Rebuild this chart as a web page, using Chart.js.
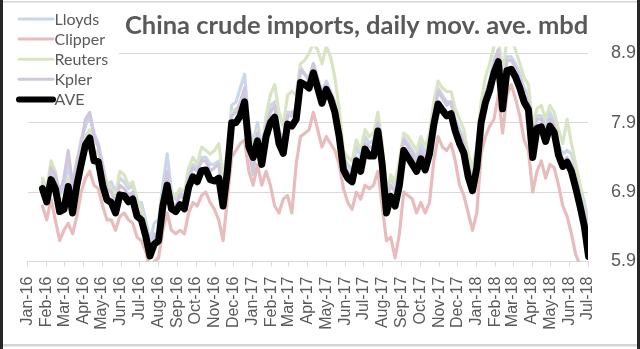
<!DOCTYPE html>
<html>
<head>
<meta charset="utf-8">
<script src="https://cdn.jsdelivr.net/npm/chart.js@4.4.1/dist/chart.umd.min.js"></script>
<style>
  html, body { margin: 0; padding: 0; background: #ffffff; }
  canvas { display: block; }
</style>
</head>
<body>
<canvas id="chart" width="640" height="349"></canvas>
<script>
// Month tick labels along the bottom axis
const monthLabels = [
  'Jan-16','Feb-16','Mar-16','Apr-16','May-16','Jun-16','Jul-16','Aug-16','Sep-16','Oct-16','Nov-16','Dec-16',
  'Jan-17','Feb-17','Mar-17','Apr-17','May-17','Jun-17','Jul-17','Aug-17','Sep-17','Oct-17','Nov-17','Dec-17',
  'Jan-18','Feb-18','Mar-18','Apr-18','May-18','Jun-18','Jul-18'
];
const yTicks = [5.9, 6.9, 7.9, 8.9];

// Weekly readings of the moving averages, starting 25 Jan 2016 (mbd)
const seriesStart = Date.UTC(2016, 0, 25);
const stepDays = 7;

const lloyds = [
  7.05,6.90,7.20,7.10,6.85,6.95,7.30,6.95,7.30,7.65,
  7.85,8.00,7.75,7.60,7.30,7.00,7.05,6.90,7.10,7.05,
  6.95,7.00,6.75,6.75,6.50,6.20,6.45,6.50,7.00,7.45,
  6.90,6.80,6.90,6.85,7.15,7.30,7.25,7.40,7.40,7.30,
  7.30,7.35,6.95,7.40,8.15,8.20,8.40,8.60,7.85,7.60,
  7.90,7.55,7.90,8.15,8.20,7.80,7.65,8.05,8.05,8.10,
  8.70,8.60,8.55,8.75,8.55,8.35,8.50,8.35,8.20,7.85,
  7.40,7.30,7.20,7.55,7.40,7.70,7.60,7.65,7.95,7.50,
  6.85,7.10,7.00,7.30,7.70,7.60,7.50,7.40,7.60,7.45,
  7.65,8.05,8.40,8.30,8.20,8.20,7.95,7.80,7.65,7.30,
  7.15,7.45,8.05,8.30,8.50,8.80,8.95,8.40,8.85,8.85,
  8.75,8.60,8.40,8.30,7.70,8.00,8.00,7.85,8.05,7.90,
  7.60,7.45,7.50,7.45,7.25,7.00,6.75,6.45
];
const clipper = [
  6.70,6.50,6.80,6.50,6.20,6.35,6.45,6.30,6.55,6.90,
  7.10,7.20,7.00,6.95,6.70,6.50,6.50,6.35,6.55,6.60,
  6.50,6.45,6.25,6.20,6.05,5.80,5.90,5.95,6.35,6.60,
  6.35,6.30,6.35,6.30,6.60,6.75,6.70,6.85,6.90,6.75,
  6.65,6.50,6.20,6.80,7.40,7.50,7.60,7.65,7.20,7.00,
  7.30,7.00,7.20,7.00,6.70,6.60,6.80,6.85,6.60,7.30,
  7.70,7.75,7.80,8.05,7.80,7.55,7.70,7.60,7.50,7.30,
  6.95,6.75,6.65,6.90,6.80,7.00,6.95,7.00,7.20,6.70,
  6.20,6.25,5.95,6.30,6.90,6.85,6.80,6.60,6.75,6.60,
  6.75,7.35,7.70,7.55,7.50,7.60,7.35,7.00,6.85,6.60,
  6.35,6.60,7.45,7.70,7.85,7.95,8.30,7.75,8.30,8.45,
  8.25,8.00,7.65,7.50,6.90,7.20,7.35,7.10,7.30,7.25,
  7.00,6.70,6.55,6.30,6.00,5.85,5.70,5.60
];
const reuters = [
  7.10,6.95,7.35,7.20,6.80,6.80,7.10,6.80,7.10,7.40,
  7.70,7.80,7.45,7.50,7.20,7.05,6.95,6.85,7.20,7.15,
  7.00,7.05,6.80,6.65,6.40,6.10,6.25,6.30,6.85,7.15,
  6.85,6.85,6.95,6.90,7.25,7.40,7.30,7.55,7.50,7.45,
  7.50,7.60,7.10,7.50,8.05,8.10,8.15,8.35,7.70,7.55,
  7.80,7.50,8.00,8.30,8.45,8.05,7.85,8.30,8.35,8.30,
  8.75,8.80,8.90,9.05,8.95,8.75,9.00,8.85,8.55,8.10,
  7.50,7.40,7.35,7.65,7.50,7.80,7.70,7.75,8.05,7.60,
  6.90,7.15,7.05,7.35,7.75,7.70,7.60,7.50,7.70,7.55,
  7.75,8.20,8.50,8.40,8.35,8.35,8.10,7.95,7.80,7.45,
  7.25,7.55,8.20,8.55,8.75,9.00,9.15,8.60,9.10,9.10,
  8.95,8.75,8.55,8.45,7.85,8.10,8.15,7.95,8.15,8.05,
  7.80,7.60,7.95,7.60,7.30,7.00,6.65,6.30
];
const kpler = [
  7.00,6.85,7.25,7.15,6.90,7.10,7.50,7.00,7.35,7.60,
  7.95,8.05,7.70,7.55,7.20,6.95,6.90,6.75,7.00,6.95,
  6.85,6.90,6.65,6.55,6.10,5.95,6.30,6.25,6.80,7.20,
  6.75,6.70,6.85,6.80,7.10,7.25,7.20,7.35,7.35,7.20,
  7.25,7.30,6.85,7.35,8.00,8.05,8.20,8.40,7.50,7.15,
  7.75,7.30,7.85,8.05,8.15,7.70,7.60,8.00,8.00,8.10,
  8.65,8.60,8.50,8.75,8.50,8.30,8.45,8.30,8.15,7.80,
  7.30,7.20,7.10,7.40,7.30,7.60,7.55,7.55,7.90,7.40,
  6.75,7.00,6.90,7.20,7.65,7.55,7.45,7.30,7.50,7.35,
  7.60,8.00,8.35,8.25,8.15,8.20,7.90,7.75,7.60,7.25,
  7.05,7.35,8.00,8.30,8.50,8.75,8.95,8.30,8.80,8.80,
  8.70,8.50,8.30,8.20,7.50,7.95,7.95,7.75,7.95,7.85,
  7.50,7.35,7.40,7.30,7.10,6.85,6.60,6.35
];
const ave = [
  6.95,6.76,7.08,6.95,6.62,6.65,6.98,6.60,7.00,7.30,
  7.58,7.68,7.35,7.34,7.00,6.79,6.75,6.60,6.86,6.85,
  6.76,6.80,6.55,6.50,6.27,5.98,6.15,6.20,6.70,7.00,
  6.66,6.62,6.72,6.66,6.97,7.12,7.05,7.21,7.22,7.08,
  7.06,7.10,6.70,7.20,7.90,7.90,8.00,8.20,7.55,7.40,
  7.64,7.30,7.70,7.90,7.98,7.60,7.46,7.88,7.85,7.95,
  8.48,8.45,8.40,8.62,8.40,8.18,8.38,8.25,8.05,7.70,
  7.22,7.10,7.05,7.35,7.20,7.52,7.42,7.42,7.78,7.30,
  6.60,6.84,6.70,7.00,7.50,7.40,7.30,7.20,7.38,7.22,
  7.45,7.87,8.17,8.08,8.00,8.03,7.78,7.60,7.46,7.12,
  6.92,7.25,7.90,8.19,8.37,8.62,8.78,8.10,8.65,8.67,
  8.56,8.40,8.20,8.09,7.40,7.82,7.84,7.63,7.85,7.76,
  7.43,7.27,7.33,7.20,6.96,6.70,6.41,5.97
];

const DAY = 86400000;
const origin = Date.UTC(2016, 0, 1);
// day number (from 1 Jan 2016) of the first day of month i
const monthDay = i => (Date.UTC(2016, i, 1) - origin) / DAY;
const toPoints = arr => arr.map((v, k) => ({ x: (seriesStart - origin) / DAY + k * stepDays, y: v }));

const TEXT = '#595959';

function line(label, values, color, width, order) {
  return {
    label, data: toPoints(values), borderColor: color, backgroundColor: color,
    borderWidth: width, pointRadius: 0, tension: 0, order, clip: 0,
    borderJoinStyle: 'round', borderCapStyle: 'round'
  };
}

const decorations = {
  id: 'decorations',
  afterDraw(chart) {
    const ctx = chart.ctx;
    ctx.save();
    // legend box
    ctx.fillStyle = '#ffffff';
    ctx.fillRect(3, 3, 116, 107);
    ctx.font = '16px Lato';
    ctx.textBaseline = 'alphabetic';
    ctx.textAlign = 'left';
    chart.data.datasets.forEach((ds, i) => {
      const base = 25 + i * 20.1;
      ctx.strokeStyle = ds.borderColor;
      ctx.lineWidth = ds.borderWidth > 4 ? 6 : 3;
      ctx.lineCap = 'round';
      ctx.beginPath();
      ctx.moveTo(19, base - 6);
      ctx.lineTo(53, base - 6);
      ctx.stroke();
      ctx.fillStyle = TEXT;
      ctx.fillText(ds.label, 54.5, base);
    });
    // title
    ctx.fillStyle = TEXT;
    ctx.font = 'bold 25.5px Lato';
    ctx.fillText('China crude imports, daily mov. ave. mbd', 125, 33.5);
    // frame
    ctx.fillStyle = '#262626';
    ctx.fillRect(0, 0, 3, 349);
    ctx.fillRect(637, 0, 3, 349);
    ctx.fillStyle = '#d4d4d4';
    ctx.fillRect(3, 1, 634, 1.5);
    ctx.fillRect(3, 344, 634, 2.5);
    ctx.restore();
  }
};

new Chart(document.getElementById('chart'), {
  type: 'line',
  data: {
    datasets: [
      line('Lloyds', lloyds, '#c9d6ec', 3.2, 4),
      line('Clipper', clipper, '#e8bcbd', 3.2, 3),
      line('Reuters', reuters, '#d9e5c2', 3.2, 2),
      line('Kpler', kpler, '#d0c7de', 3.2, 1),
      line('AVE', ave, '#000000', 7, 0)
    ]
  },
  options: {
    responsive: false,
    animation: false,
    devicePixelRatio: 1,
    layout: { padding: { left: 27.7, right: 0, top: 46.4, bottom: 0 } },
    plugins: { legend: { display: false }, title: { display: false }, tooltip: { enabled: false } },
    scales: {
      x: {
        type: 'linear',
        min: monthDay(0),
        max: monthDay(monthLabels.length - 1),
        afterBuildTicks: s => { s.ticks = monthLabels.map((_, i) => ({ value: monthDay(i) })); },
        afterFit: s => { s.height = 87.5; },
        ticks: {
          autoSkip: false, minRotation: 90, maxRotation: 90, padding: 10,
          color: TEXT, font: { family: 'Liberation Sans', size: 16 },
          callback: (v, i) => monthLabels[i]
        },
        grid: { drawOnChartArea: false, drawTicks: true, tickLength: 5, color: '#d9d9d9' },
        border: { display: true, color: '#d9d9d9' }
      },
      y: {
        type: 'linear',
        position: 'right',
        min: 5.9,
        max: 9.0,
        afterBuildTicks: s => { s.ticks = yTicks.map(v => ({ value: v })); },
        afterFit: s => { s.width = 52; },
        ticks: {
          padding: 23, color: TEXT, font: { family: 'Liberation Sans', size: 18 },
          callback: v => v.toFixed(1)
        },
        grid: { color: '#d9d9d9', drawTicks: false },
        border: { display: false }
      }
    }
  },
  plugins: [decorations]
});
</script>
</body>
</html>
